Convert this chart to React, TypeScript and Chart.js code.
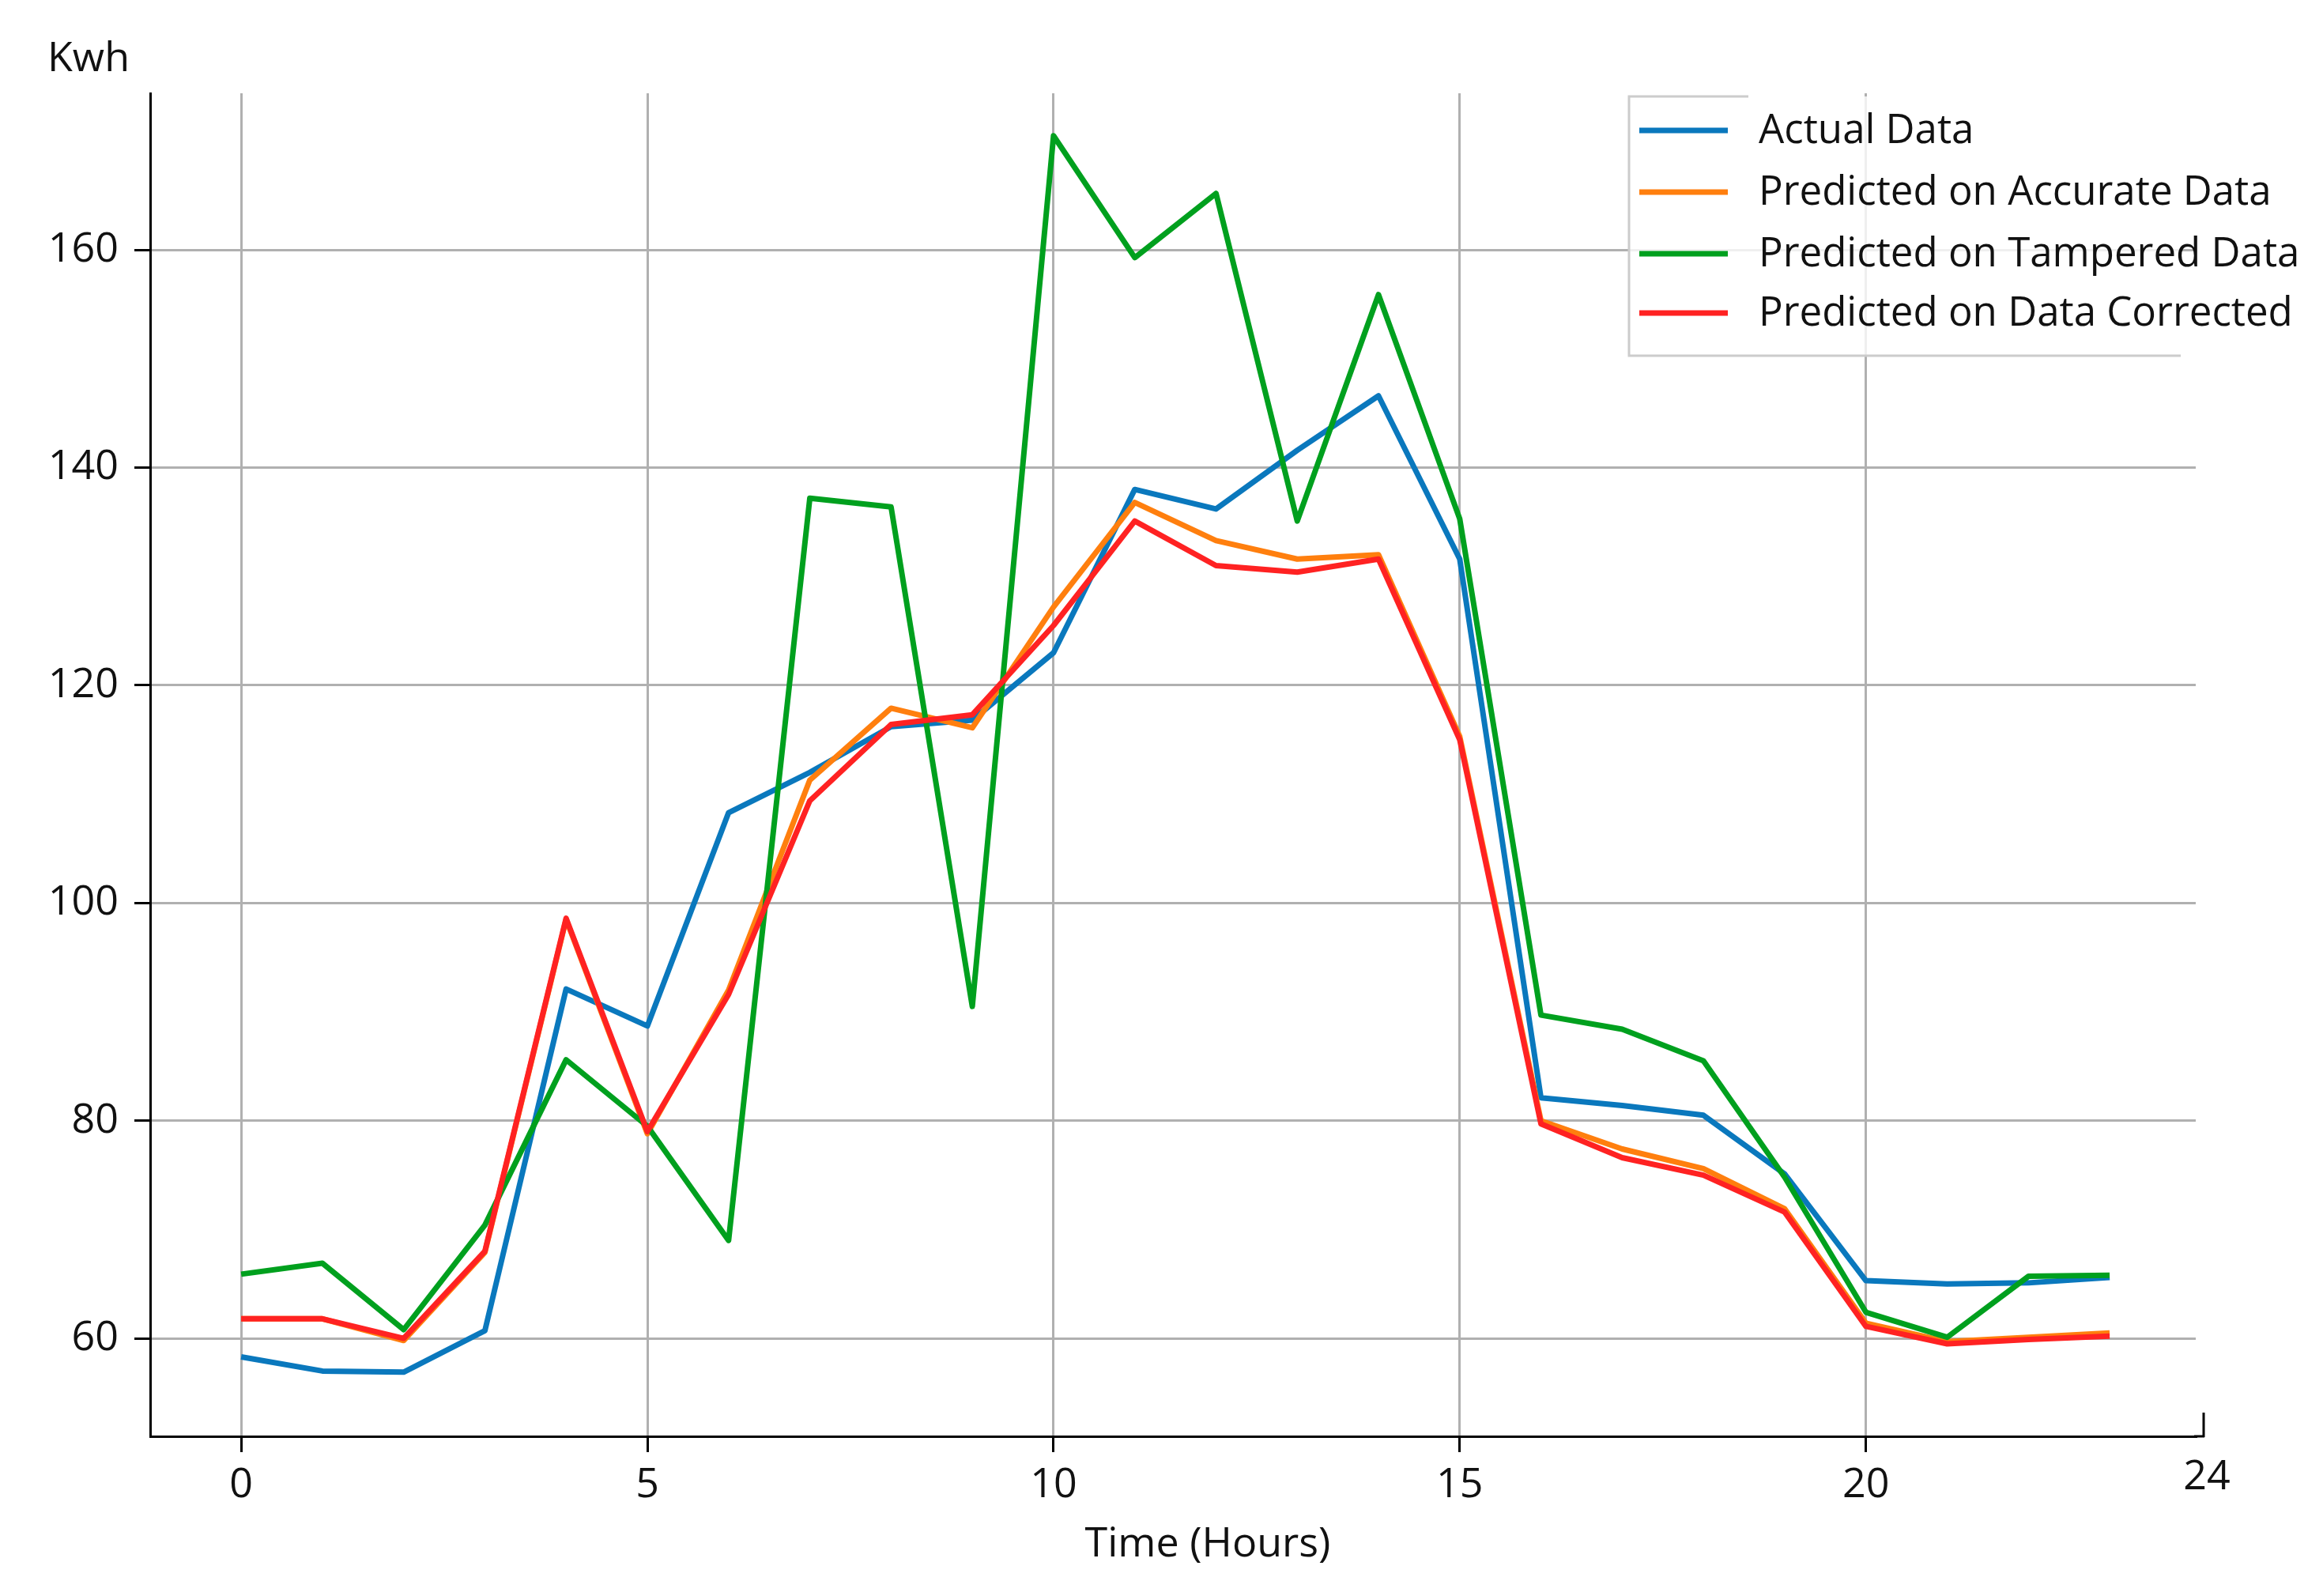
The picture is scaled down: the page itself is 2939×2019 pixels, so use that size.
import React, { useEffect, useRef } from "react";
import { Chart, registerables } from "chart.js";

Chart.register(...registerables);

// hours 0..23
const hours = [
  0, 1, 2, 3, 4, 5, 6, 7, 8, 9, 10, 11, 12, 13, 14, 15, 16, 17, 18, 19, 20, 21, 22, 23,
];

const actualData = [
  58.3, 57.0, 56.9, 60.7, 92.1, 88.7, 108.3, 112.0, 116.2, 116.8, 123.0, 138.0,
  136.2, 141.6, 146.6, 131.6, 82.1, 81.4, 80.5, 75.1, 65.3, 65.0, 65.1, 65.6,
];
const predictedAccurate = [
  61.8, 61.8, 59.8, 67.9, 98.5, 78.8, 92.0, 111.3, 117.9, 116.1, 127.2, 136.8,
  133.3, 131.6, 132.0, 115.3, 80.0, 77.4, 75.6, 71.9, 61.4, 59.7, 60.1, 60.5,
];
const predictedTampered = [
  65.9, 66.9, 60.8, 70.4, 85.6, 79.5, 69.0, 137.2, 136.4, 90.5, 170.5, 159.3,
  165.2, 135.1, 155.9, 135.3, 89.7, 88.4, 85.5, 74.8, 62.4, 60.1, 65.7, 65.8,
];
const predictedCorrected = [
  61.8, 61.8, 60.0, 68.0, 98.6, 79.0, 91.6, 109.4, 116.4, 117.3, 125.5, 135.1,
  131.0, 130.4, 131.6, 115.0, 79.7, 76.6, 75.0, 71.6, 61.1, 59.5, 59.9, 60.2,
];

const seriesNames = [
  "Actual Data",
  "Predicted on Accurate Data",
  "Predicted on Tampered Data",
  "Predicted on Data Corrected",
];
const seriesColors = ["#0a78bd", "#ff7f0e", "#00a01e", "#ff2222"];

const xTicks = [0, 5, 10, 15, 20];
const yTicks = [60, 80, 100, 120, 140, 160];
const xEndLabel = "24";

const FONT = "'Open Sans', 'DejaVu Sans', sans-serif";

const decorations = {
  id: "decorations",
  afterDraw(chart: any) {
    const ctx = chart.ctx as CanvasRenderingContext2D;
    const area = chart.chartArea;
    ctx.save();
    ctx.fillStyle = "#111";
    ctx.font = `52px ${FONT}`;
    ctx.textBaseline = "alphabetic";

    // y axis unit label
    ctx.textAlign = "left";
    ctx.fillText("Kwh", 60, 90);

    // x axis title
    ctx.textAlign = "center";
    ctx.fillText("Time (Hours)", 1528, 1969);

    // end of bottom spine with its "24" mark
    ctx.strokeStyle = "#000";
    ctx.lineWidth = 3;
    ctx.beginPath();
    ctx.moveTo(area.right - 2, area.bottom);
    ctx.lineTo(2789, area.bottom);
    ctx.moveTo(2788, area.bottom + 1);
    ctx.lineTo(2788, area.bottom - 30);
    ctx.stroke();
    ctx.fillText(xEndLabel, 2792, 1884);

    // legend
    const bx = 2061;
    const by = 122;
    const bw = 698;
    const bh = 328;
    ctx.fillStyle = "rgba(255,255,255,0.8)";
    ctx.fillRect(bx, by, bw, bh);
    ctx.strokeStyle = "#cccccc";
    ctx.lineWidth = 3;
    ctx.beginPath();
    ctx.moveTo(2212, by);
    ctx.lineTo(bx, by);
    ctx.lineTo(bx, by + bh);
    ctx.lineTo(bx + bw, by + bh);
    ctx.stroke();

    ctx.font = `51px ${FONT}`;
    const rows = [165, 243, 321, 396];
    seriesNames.forEach((name, i) => {
      ctx.strokeStyle = seriesColors[i];
      ctx.lineWidth = 7;
      ctx.beginPath();
      ctx.moveTo(2074, rows[i]);
      ctx.lineTo(2186, rows[i]);
      ctx.stroke();
      ctx.fillStyle = "#111";
      ctx.textAlign = "left";
      ctx.fillText(name, 2225, rows[i] + 16);
    });
    ctx.restore();
  },
};

const App: React.FC = () => {
  const canvasRef = useRef<HTMLCanvasElement>(null);
  const chartRef = useRef<Chart | null>(null);

  useEffect(() => {
    document.body.style.margin = "0";
    if (!canvasRef.current) return;
    if (chartRef.current) chartRef.current.destroy();

    const series = [actualData, predictedAccurate, predictedTampered, predictedCorrected];
    const drawOrder = [4, 3, 2, 1];

    chartRef.current = new Chart(canvasRef.current, {
      type: "line",
      data: {
        datasets: series.map((values, i) => ({
          label: seriesNames[i],
          data: values.map((v, j) => ({ x: hours[j], y: v })),
          borderColor: seriesColors[i],
          backgroundColor: seriesColors[i],
          borderWidth: 7,
          pointRadius: 0,
          tension: 0,
          borderJoinStyle: "round" as const,
          order: drawOrder[i],
        })),
      },
      options: {
        animation: false,
        responsive: false,
        devicePixelRatio: 1,
        events: [],
        layout: { padding: { top: 118, right: 161, left: 0, bottom: 0 } },
        plugins: {
          legend: { display: false },
          tooltip: { enabled: false },
        },
        scales: {
          x: {
            type: "linear",
            min: -1.12,
            max: 24.06,
            afterBuildTicks: (scale: any) => {
              scale.ticks = xTicks.map((v) => ({ value: v }));
            },
            afterFit: (scale: any) => {
              scale.height = 202;
            },
            ticks: {
              color: "#111",
              font: { family: FONT, size: 52 },
              padding: 11,
              maxRotation: 0,
              callback: (v: any) => String(v),
            },
            grid: {
              color: "#b0b0b0",
              lineWidth: 3,
              tickLength: 20,
              tickColor: "#000",
              tickWidth: 3,
            },
            border: { display: true, color: "#000", width: 3 },
          },
          y: {
            type: "linear",
            min: 51.0,
            max: 174.4,
            afterBuildTicks: (scale: any) => {
              scale.ticks = yTicks.map((v) => ({ value: v }));
            },
            afterFit: (scale: any) => {
              scale.width = 190;
            },
            ticks: {
              color: "#111",
              font: { family: FONT, size: 52 },
              padding: 20,
              callback: (v: any) => String(v),
            },
            grid: {
              color: "#b0b0b0",
              lineWidth: 3,
              tickLength: 20,
              tickColor: "#000",
              tickWidth: 3,
            },
            border: { display: true, color: "#000", width: 3 },
          },
        },
      },
      plugins: [decorations],
    });

    return () => {
      if (chartRef.current) {
        chartRef.current.destroy();
        chartRef.current = null;
      }
    };
  }, []);

  return (
    <div style={{ width: "2939px", height: "2019px", background: "#fff" }}>
      <canvas ref={canvasRef} width={2939} height={2019} style={{ display: "block" }} />
    </div>
  );
};

export default App;
